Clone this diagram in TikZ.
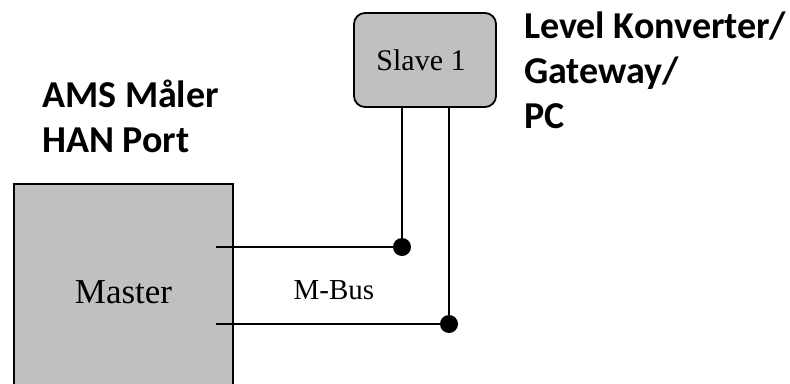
\documentclass[tikz,border=0pt]{standalone}
\usepackage{fontspec}
\setmainfont{Liberation Serif}
\newfontfamily\labelfont{Carlito}
\begin{document}
\begin{tikzpicture}[x=1pt,y=1pt,
  box/.style={draw=black,line width=1.8pt,fill=boxgray,inner sep=0pt},
  wire/.style={line width=1.8pt},
  junction/.style={circle,fill=black,inner sep=0pt,minimum size=18pt},
  heading/.style={font=\labelfont\bfseries\fontsize{38}{45}\selectfont,align=left,inner sep=0pt,anchor=base west}]
\definecolor{boxgray}{HTML}{C0C0C0}
\clip (0,0) rectangle (790,-383);
\fill[white] (0,0) rectangle (790,-383);

% devices
\node[box,minimum width=219pt,minimum height=216pt,font=\fontsize{35}{40}\selectfont] (master) at (123.5,-292) {Master};
\node[box,rounded corners=11pt,minimum width=142pt,minimum height=94pt,font=\fontsize{30}{36}\selectfont,text depth=0pt] (slave) at (425,-60) {\hspace*{-8pt}Slave 1};

% bus wiring
\coordinate (m1) at (216,-247);
\coordinate (m2) at (216,-324);
\coordinate (j1) at (402,-247);
\coordinate (j2) at (449,-324);
\draw[wire] (m1) -- (j1) -- (slave.south -| j1);
\draw[wire] (m2) -- (j2) -- (slave.south -| j2);
\node[junction] (d1) at (j1) {};
\node[junction] (d2) at (j2) {};
\node[font=\fontsize{29}{34}\selectfont] (bus) at (334,-290) {M-Bus};

% labels (anchored at the baseline of their last line)
\node[heading] (meter) at (42,-152) {AMS Måler\\HAN Port};
\node[heading] (conv) at (524,-128) {Level Konverter/\\Gateway/\\PC};
\end{tikzpicture}
\end{document}
